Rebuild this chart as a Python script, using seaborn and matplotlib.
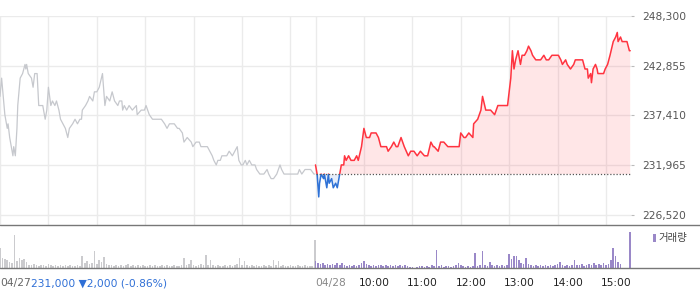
import matplotlib
matplotlib.use("Agg")
import matplotlib.pyplot as plt
import numpy as np
import seaborn as sns
from matplotlib.patches import Rectangle
from matplotlib.lines import Line2D

# ---------------- data ----------------
# minutes after 09:00 and price, 04/27 (previous day)
d1_min = [0, 2, 4, 6, 9, 10, 12, 15, 16, 17, 19, 21, 22, 25, 28, 31, 32, 33, 35, 39,
          41, 43, 46, 48, 53, 56, 58, 60, 63, 65, 68, 70, 73, 75, 78, 81, 84, 86, 90, 93,
          96, 99, 101, 102, 106, 109, 111, 115, 117, 120, 123, 127, 130, 132, 136, 139, 142, 146, 148, 151,
          152, 154, 157, 160, 164, 169, 170, 175, 179, 181, 185, 189, 194, 197, 200, 204, 207, 210, 212, 216,
          220, 222, 226, 228, 232, 237, 239, 243, 247, 249, 253, 257, 260, 263, 265, 268, 270, 273, 275, 279,
          281, 284, 288, 291, 294, 296, 299, 301, 304, 306, 309, 312, 316, 318, 322, 327, 331, 333, 336, 339,
          343, 347, 349, 352, 355, 360, 365, 369, 371, 374, 378, 381, 385, 389, 390]
d1_price = [239500, 241500, 239500, 237500, 236000, 236500, 235000, 233500, 233000, 234000,
            233000, 236000, 238500, 241500, 242000, 243000, 242500, 243000, 242000, 241500,
            240500, 242000, 242000, 238500, 238500, 237000, 238000, 240500, 238500, 239000,
            238500, 239000, 238000, 237000, 236500, 236000, 235000, 236000, 236500, 237000,
            236500, 237000, 237000, 238000, 238500, 239000, 239500, 239000, 240000, 240000,
            240500, 242000, 238500, 239500, 239000, 240000, 239000, 238500, 239000, 239000,
            238000, 238500, 238000, 238500, 238000, 238500, 237500, 238000, 238000, 238500,
            237500, 237000, 237000, 237000, 237000, 236500, 236000, 236500, 236500, 236500,
            236000, 236000, 235500, 234500, 235000, 234500, 234000, 234500, 234500, 234000,
            234000, 234000, 233500, 233000, 232500, 232000, 232500, 232500, 233000, 233000,
            233000, 233500, 233000, 233500, 234000, 232500, 232000, 232000, 232500, 232000,
            232500, 232000, 232000, 231500, 231000, 231000, 231500, 231000, 230500, 230500,
            231000, 232000, 231500, 231000, 231000, 231000, 231000, 231000, 231500, 231000,
            231500, 231500, 231500, 231000, 231000]

# 04/28 (current day)
d2_min = [0, 2, 4, 5, 7, 10, 11, 14, 16, 17, 20, 22, 25, 27, 30, 32, 35, 36, 38, 41,
          44, 48, 51, 53, 57, 60, 63, 67, 69, 72, 75, 78, 81, 85, 88, 90, 94, 97, 100, 102,
          106, 110, 115, 118, 122, 126, 130, 135, 139, 143, 146, 147, 152, 155, 159, 164, 169, 174, 178, 180,
          184, 186, 190, 195, 196, 201, 205, 207, 211, 215, 217, 222, 226, 230, 232, 236, 238, 242, 244, 246,
          248, 251, 254, 256, 259, 262, 264, 267, 269, 273, 276, 279, 283, 286, 289, 293, 296, 299, 301, 304,
          306, 310, 312, 316, 320, 322, 326, 331, 334, 337, 338, 341, 342, 344, 347, 349, 350, 354, 357, 359,
          362, 365, 369, 372, 374, 375, 378, 380, 384, 386, 389, 390]
d2_price = [232000, 231000, 228500, 230000, 231000, 230500, 231000, 229500, 231000, 230000,
            230500, 229500, 230000, 229500, 231000, 232000, 232000, 233000, 232500, 233000,
            232500, 232500, 233000, 232500, 234000, 236000, 235000, 235000, 235500, 235500,
            235500, 235000, 234000, 234000, 234000, 233500, 234000, 234500, 234000, 234000,
            235000, 234000, 233000, 233500, 233500, 233000, 233500, 233000, 233000, 234500,
            234000, 234000, 233500, 234500, 234500, 234000, 234000, 234000, 234000, 235500,
            235000, 235000, 235500, 235000, 236500, 237000, 238000, 239500, 238000, 238000,
            238000, 237500, 238500, 238500, 238500, 238500, 238500, 241500, 244500, 242500,
            243500, 244500, 243000, 244000, 244000, 244500, 245000, 244500, 244000, 243500,
            243500, 243500, 244000, 243500, 243500, 244000, 244000, 244000, 244000, 243500,
            243000, 243500, 243000, 242500, 243000, 243500, 243500, 243500, 242500, 242500,
            241500, 242000, 241000, 242500, 243000, 242500, 242000, 242000, 242000, 242500,
            243000, 244000, 245500, 246000, 246500, 245500, 246000, 245500, 245500, 245500,
            244500, 244500]

prev_close = 231000

# volume every 3 minutes (thousand shares)
d1_vol = [20, 10, 9, 8, 6, 5, 33, 7, 10, 8, 9, 6, 3, 3, 4, 3, 2, 3, 3, 2,
          4, 3, 2, 3, 2, 3, 2, 3, 2, 3, 2, 2, 3, 2, 12, 5, 7, 4, 5, 17,
          4, 8, 6, 11, 4, 3, 3, 2, 3, 2, 3, 2, 3, 4, 2, 3, 2, 3, 2, 3,
          2, 2, 3, 2, 3, 2, 2, 3, 2, 3, 2, 2, 3, 2, 2, 3, 10, 3, 4, 8,
          3, 2, 3, 4, 3, 13, 3, 8, 3, 2, 3, 2, 2, 3, 2, 3, 2, 3, 4, 10,
          3, 7, 3, 2, 3, 2, 3, 2, 2, 3, 2, 3, 2, 8, 3, 7, 2, 3, 2, 2,
          3, 2, 2, 3, 2, 2, 3, 2, 2, 2, 28]
d2_vol = [7, 5, 4, 5, 3, 4, 3, 4, 3, 5, 3, 5, 3, 2, 3, 2, 3, 2, 3, 5,
          7, 4, 3, 2, 3, 2, 3, 3, 2, 3, 2, 3, 2, 3, 2, 3, 2, 3, 2, 1,
          1, 0, 1, 2, 2, 1, 2, 1, 3, 2, 18, 2, 3, 1, 2, 2, 1, 2, 3, 5,
          3, 2, 1, 2, 1, 2, 15, 2, 3, 17, 3, 2, 6, 3, 2, 3, 2, 3, 2, 3,
          14, 9, 12, 12, 8, 5, 4, 10, 4, 3, 2, 3, 2, 3, 2, 3, 2, 3, 2, 3,
          4, 6, 3, 2, 3, 2, 3, 8, 3, 3, 4, 2, 3, 4, 3, 5, 3, 4, 3, 5,
          3, 4, 8, 20, 12, 6, 4, 0, 0, 0, 36]

y_ticks = [226520, 231965, 237410, 242855, 248300]
day1_label = "04/27"
day1_info = "231,000 \u25bc2,000 (-0.86%)"
day2_label = "04/28"
hour_labels = ["10:00", "11:00", "12:00", "13:00", "14:00", "15:00"]
legend_label = "거래량"

# ---------------- style ----------------
sns.set_style("white")
plt.rcParams["font.family"] = ["DejaVu Sans", "Noto Sans CJK KR"]

W, H = 700, 289
fig = plt.figure(figsize=(W / 100, H / 100), dpi=100)
ax = fig.add_axes([0, 1 - 225 / H, 631 / W, (225 - 16) / H])
axv = fig.add_axes([0, 1 - 268 / H, 631 / W, (268 - 226) / H])

DAY2 = 391  # x offset of the second session
X1 = np.array(d1_min, dtype=float)
X2 = np.array(d2_min, dtype=float) + DAY2
P1 = np.array(d1_price, dtype=float)
P2 = np.array(d2_price, dtype=float)

GRID = "#ebebeb"
RED = "#ff3440"
BLUE = "#2f72d6"
GREY_LINE = "#c6c8cd"
PURPLE = "#9a88c8"

xmax = 782
# ---- main price panel ----
ax.set_xlim(0, xmax)
ax.set_ylim(225425, 248300)
vgrid = [0, 60, 120, 180, 240, 300, 360, DAY2] + [DAY2 + 60 * k for k in range(1, 7)]
ax.set_xticks(vgrid)
ax.set_yticks(y_ticks)
ax.set_yticklabels([f"{v:,}" for v in y_ticks])
ax.grid(True, color=GRID, lw=1)
ax.set_axisbelow(True)
for s in ax.spines.values():
    s.set_visible(False)
ax.tick_params(axis="x", length=0, labelbottom=False)
ax.yaxis.tick_right()
ax.tick_params(axis="y", length=2, color="#bbbbbb", pad=6, labelsize=7.7, labelcolor="#555555")

# previous day line
sns.lineplot(x=X1, y=P1, ax=ax, color=GREY_LINE, linewidth=0.9, estimator=None)

# fills relative to previous close
ax.fill_between(X2, P2, prev_close, where=P2 >= prev_close, interpolate=True,
                color=RED, alpha=0.12, lw=0)
ax.fill_between(X2, P2, prev_close, where=P2 <= prev_close, interpolate=True,
                color=BLUE, alpha=0.12, lw=0)

# current day line: red above prev close, blue below
sns.lineplot(x=X2, y=P2, ax=ax, color=RED, linewidth=1.1, estimator=None)
ax.lines[-1].set_clip_path(Rectangle((DAY2 - 5, prev_close), 500, 40000, transform=ax.transData))
sns.lineplot(x=X2, y=P2, ax=ax, color=BLUE, linewidth=1.1, estimator=None)
ax.lines[-1].set_clip_path(Rectangle((DAY2 - 5, 200000), 500, prev_close - 200000, transform=ax.transData))

# previous close dotted line
ax.plot([DAY2, DAY2 + 390], [prev_close, prev_close], color="#555555", lw=0.9, ls=(0, (1, 1.5)))
ax.set_xlabel("")
ax.set_ylabel("")

# ---- volume panel ----
V1x = np.arange(0, 391, 3, dtype=float)[: len(d1_vol)]
V2x = np.arange(0, 391, 3, dtype=float)[: len(d2_vol)] + DAY2
V2x[-1] = DAY2 + 390
V1x[-1] = 390
axv.bar(V1x, d1_vol, width=2.0, color="#cbcbce", lw=0)
axv.bar(V2x, d2_vol, width=2.0, color=PURPLE, lw=0)
axv.set_xlim(0, xmax)
axv.set_ylim(0, 42)
for s in axv.spines.values():
    s.set_visible(False)
axv.set_yticks([])
xt = [DAY2] + [DAY2 + 60 * k for k in range(1, 7)]
axv.set_xticks(xt)
axv.set_xticklabels([])
axv.tick_params(axis="x", length=4, width=1, color="#444444", direction="out")

# bottom labels
def lab(x, s, dx_px, color):
    axv.annotate(s, xy=(x, 0), xycoords=("data", "axes fraction"),
                 xytext=(dx_px * 0.72, -15 * 0.72), textcoords="offset points",
                 ha="left", va="center", fontsize=7.7, color=color)

lab(0, day1_label, 0, "#666666")
lab(0, day1_info, 31, "#2f6fd6")
lab(DAY2, day2_label, 0, "#888888")
for x, s in zip(xt[1:], hour_labels):
    lab(x, s, -5, "#222222")

# full-width separator lines
for ypx in (225, 268):
    fig.add_artist(Line2D([0, 1], [1 - ypx / H, 1 - ypx / H], transform=fig.transFigure,
                          color="#777777", lw=1))

# volume legend
fig.add_artist(Rectangle((653 / W, 1 - 242 / H), 2.5 / W, 8 / H, transform=fig.transFigure,
                         color=PURPLE, lw=0))
fig.text(658 / W, 1 - 238 / H, legend_label, ha="left", va="center", fontsize=7.5,
         color="#444444", family=["Noto Sans CJK KR", "DejaVu Sans"])

fig.savefig("out.png", dpi=100)
